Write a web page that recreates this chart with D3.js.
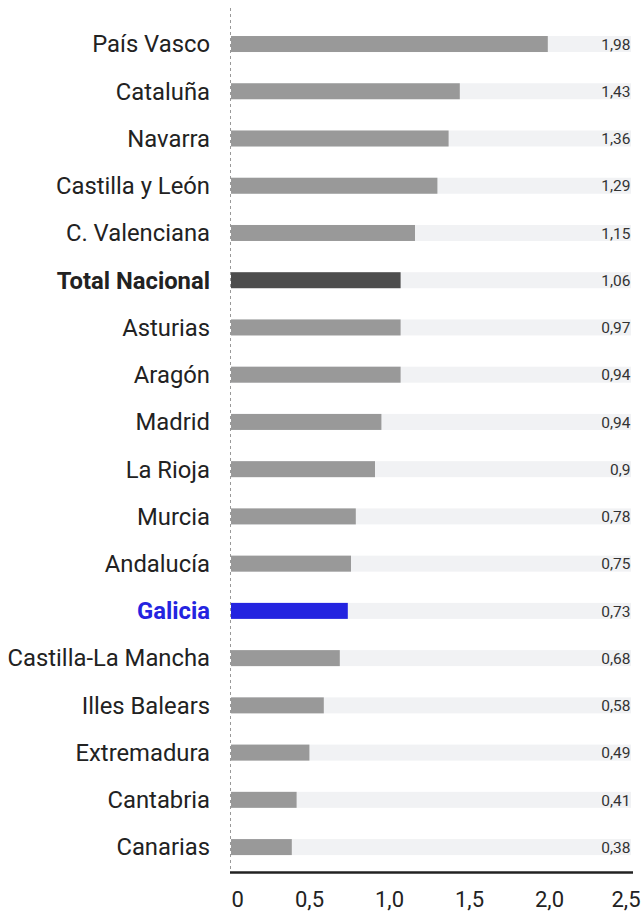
<!DOCTYPE html>
<html>
<head>
<meta charset="utf-8">
<script src="https://cdn.jsdelivr.net/npm/d3@7"></script>
<style>
  body { margin: 0; background: #fff; }
  svg { display: block; font-family: Roboto, "Noto Sans", sans-serif; }
</style>
</head>
<body>
<svg id="chart"></svg>
<script>
const regions = ["País Vasco", "Cataluña", "Navarra", "Castilla y León", "C. Valenciana",
  "Total Nacional", "Asturias", "Aragón", "Madrid", "La Rioja", "Murcia", "Andalucía",
  "Galicia", "Castilla-La Mancha", "Illes Balears", "Extremadura", "Cantabria", "Canarias"];
// printed values
const values = [1.98, 1.43, 1.36, 1.29, 1.15, 1.06, 0.97, 0.94, 0.94, 0.9, 0.78, 0.75,
  0.73, 0.68, 0.58, 0.49, 0.41, 0.38];
// bar lengths as drawn (Asturias and Aragón are drawn longer than their label)
const barValues = [1.98, 1.43, 1.36, 1.29, 1.15, 1.06, 1.06, 1.06, 0.94, 0.9, 0.78, 0.75,
  0.73, 0.68, 0.58, 0.49, 0.41, 0.38];
const ticks = [0, 0.5, 1, 1.5, 2, 2.5];

const width = 644, height = 915;
const svg = d3.select("#chart").attr("width", width).attr("height", height);

const x = d3.scaleLinear().domain([0, 2.5]).range([231, 631]);
const y = d3.scaleBand().domain(regions).range([20.4, 870.7]);
const barH = 16;
const fmt = v => String(v).replace(".", ",");

const colorOf = r => r === "Galicia" ? "#2424e0" : r === "Total Nacional" ? "#4d4d4d" : "#999999";

// dashed baseline
svg.append("line")
  .attr("x1", x(0) - 0.5).attr("x2", x(0) - 0.5)
  .attr("y1", 8).attr("y2", 872)
  .attr("stroke", "#999").attr("stroke-dasharray", "3,3");

const rows = svg.selectAll("g.row").data(regions).enter().append("g")
  .attr("class", "row")
  .attr("transform", d => `translate(0, ${y(d) + y.bandwidth() / 2})`);

rows.append("rect")
  .attr("x", x(0)).attr("y", -barH / 2)
  .attr("width", x(2.5) - x(0)).attr("height", barH)
  .attr("fill", "#f1f2f4");

rows.append("rect")
  .attr("x", x(0)).attr("y", -barH / 2)
  .attr("width", (d, i) => x(barValues[i]) - x(0)).attr("height", barH)
  .attr("fill", colorOf);

rows.append("text")
  .attr("x", 210).attr("dy", "0.35em")
  .attr("text-anchor", "end")
  .attr("font-size", 23.8)
  .attr("font-weight", d => d === "Galicia" || d === "Total Nacional" ? "bold" : "normal")
  .attr("fill", d => d === "Galicia" ? "#2424e0" : "#222")
  .text(d => d);

rows.append("text")
  .attr("x", x(2.5) - 0.5).attr("dy", "0.37em")
  .attr("text-anchor", "end")
  .attr("font-size", 15.5)
  .attr("fill", "#333")
  .text((d, i) => fmt(values[i]));

// x axis
const axis = svg.append("g")
  .attr("transform", "translate(0, 872.5)")
  .call(d3.axisBottom(x).tickValues(ticks).tickSize(0).tickPadding(19)
    .tickFormat(d => d === 0 ? "0" : d3.format(".1f")(d).replace(".", ",")));
axis.select(".domain").attr("stroke", "#222").attr("stroke-width", 2.5)
  .attr("d", `M${x(0) - 1},0H${x(2.5) + 2}`);
axis.selectAll(".tick text")
  .attr("font-size", 22).attr("fill", "#222")
  .attr("font-family", "Roboto, sans-serif");
axis.selectAll(".tick text").filter(d => d === 0).attr("text-anchor", "start").attr("dx", 0);
axis.selectAll(".tick text").filter(d => d !== 0 && d !== 2.5).attr("dx", -2);
axis.selectAll(".tick text").filter(d => d === 2.5).attr("text-anchor", "end").attr("dx", 9);
</script>
</body>
</html>
